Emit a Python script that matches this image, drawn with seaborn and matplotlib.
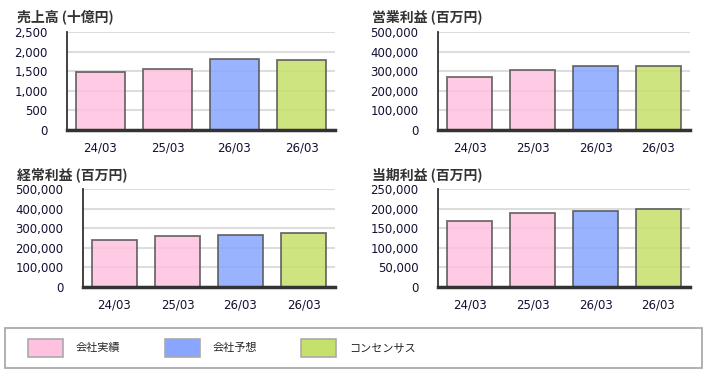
import numpy as np
import pandas as pd
import seaborn as sns
import matplotlib.pyplot as plt
from matplotlib.patches import Patch, Rectangle

# data
periods = ["24/03", "25/03", "26/03", "26/03"]
kinds = ["会社実績", "会社実績", "会社予想", "コンセンサス"]
sales = [1484, 1561, 1817, 1791]
op_income = [271000, 305000, 324000, 329000]
ord_income = [240000, 262000, 265000, 274000]
net_income = [168000, 189000, 194000, 199000]

titles = ["売上高 (十億円)", "営業利益 (百万円)", "経常利益 (百万円)", "当期利益 (百万円)"]
ymax = [2500, 500000, 500000, 250000]
ystep = [500, 100000, 100000, 50000]

legend_colors = {"会社実績": "#FFC1DF", "会社予想": "#88A6FF", "コンセンサス": "#C5E06B"}

sns.set_theme(style="white")
plt.rcParams['font.family'] = ['DejaVu Sans', 'Noto Sans CJK JP']

W, H = 707, 374
fig = plt.figure(figsize=(W / 100, H / 100), dpi=100)

# axes boxes in pixels: left, right, top, bottom
boxes = [(67, 335, 32, 130), (438, 690, 32, 130),
         (83, 335, 189, 287), (438, 690, 189, 287)]
title_pos = [(17, 17), (372, 17), (17, 175), (372, 175)]
series = [sales, op_income, ord_income, net_income]

for i, vals in enumerate(series):
    l, r, t, b = boxes[i]
    ax = fig.add_axes([l / W, 1 - b / H, (r - l) / W, (b - t) / H])
    df = pd.DataFrame({"pos": [str(k) for k in range(4)], "value": vals, "kind": kinds})
    sns.barplot(data=df, x="pos", y="value", hue="kind", palette=legend_colors,
                dodge=False, width=0.72, alpha=0.85, saturation=1,
                edgecolor="#555555", linewidth=1.3, legend=False, ax=ax)
    ax.set_xlim(-0.5, 3.5)
    ax.set_ylim(0, ymax[i])
    ticks = np.arange(0, ymax[i] + 1, ystep[i])
    ax.set_yticks(ticks)
    ax.set_yticklabels([f"{v:,}" for v in ticks], fontsize=8.5, color="#111133")
    ax.set_xticks(range(4))
    ax.set_xticklabels(periods, fontsize=8.5, color="#111133")
    ax.set_xlabel("")
    ax.set_ylabel("")
    ax.yaxis.grid(True, color="#DDDDDD", linewidth=1.5)
    ax.set_axisbelow(True)
    ax.tick_params(axis="y", length=3, width=1, color="#333333", pad=11)
    ax.tick_params(axis="x", length=0, pad=8)
    for s in ["top", "right"]:
        ax.spines[s].set_visible(False)
    ax.spines["left"].set_color("#333333")
    ax.spines["left"].set_linewidth(1.3)
    ax.spines["bottom"].set_color("#333333")
    ax.spines["bottom"].set_linewidth(2.5)
    tx, ty = title_pos[i]
    fig.text(tx / W, 1 - ty / H, titles[i], ha="left", va="center",
             fontsize=10, fontweight="bold", color="#333333",
             family=["Noto Sans CJK JP", "DejaVu Sans"])

# legend box
fig.patches.append(Rectangle((5 / W, 1 - 368 / H), 697 / W, 40 / H,
                             transform=fig.transFigure, fill=False,
                             edgecolor="#AAAAAA", linewidth=1.3))
handles = [Patch(facecolor=c, edgecolor="#AAAAAA", linewidth=1.2, label=k)
           for k, c in legend_colors.items()]
fig.legend(handles=handles, loc="upper left", bbox_to_anchor=(28 / W, 1 - 339 / H),
           ncol=3, frameon=False, borderpad=0, borderaxespad=0,
           handlelength=3.15, handleheight=2.1, handletextpad=1.15,
           columnspacing=4.0, prop={"family": ["Noto Sans CJK JP"], "size": 8})

fig.savefig("out.png", dpi=100)
